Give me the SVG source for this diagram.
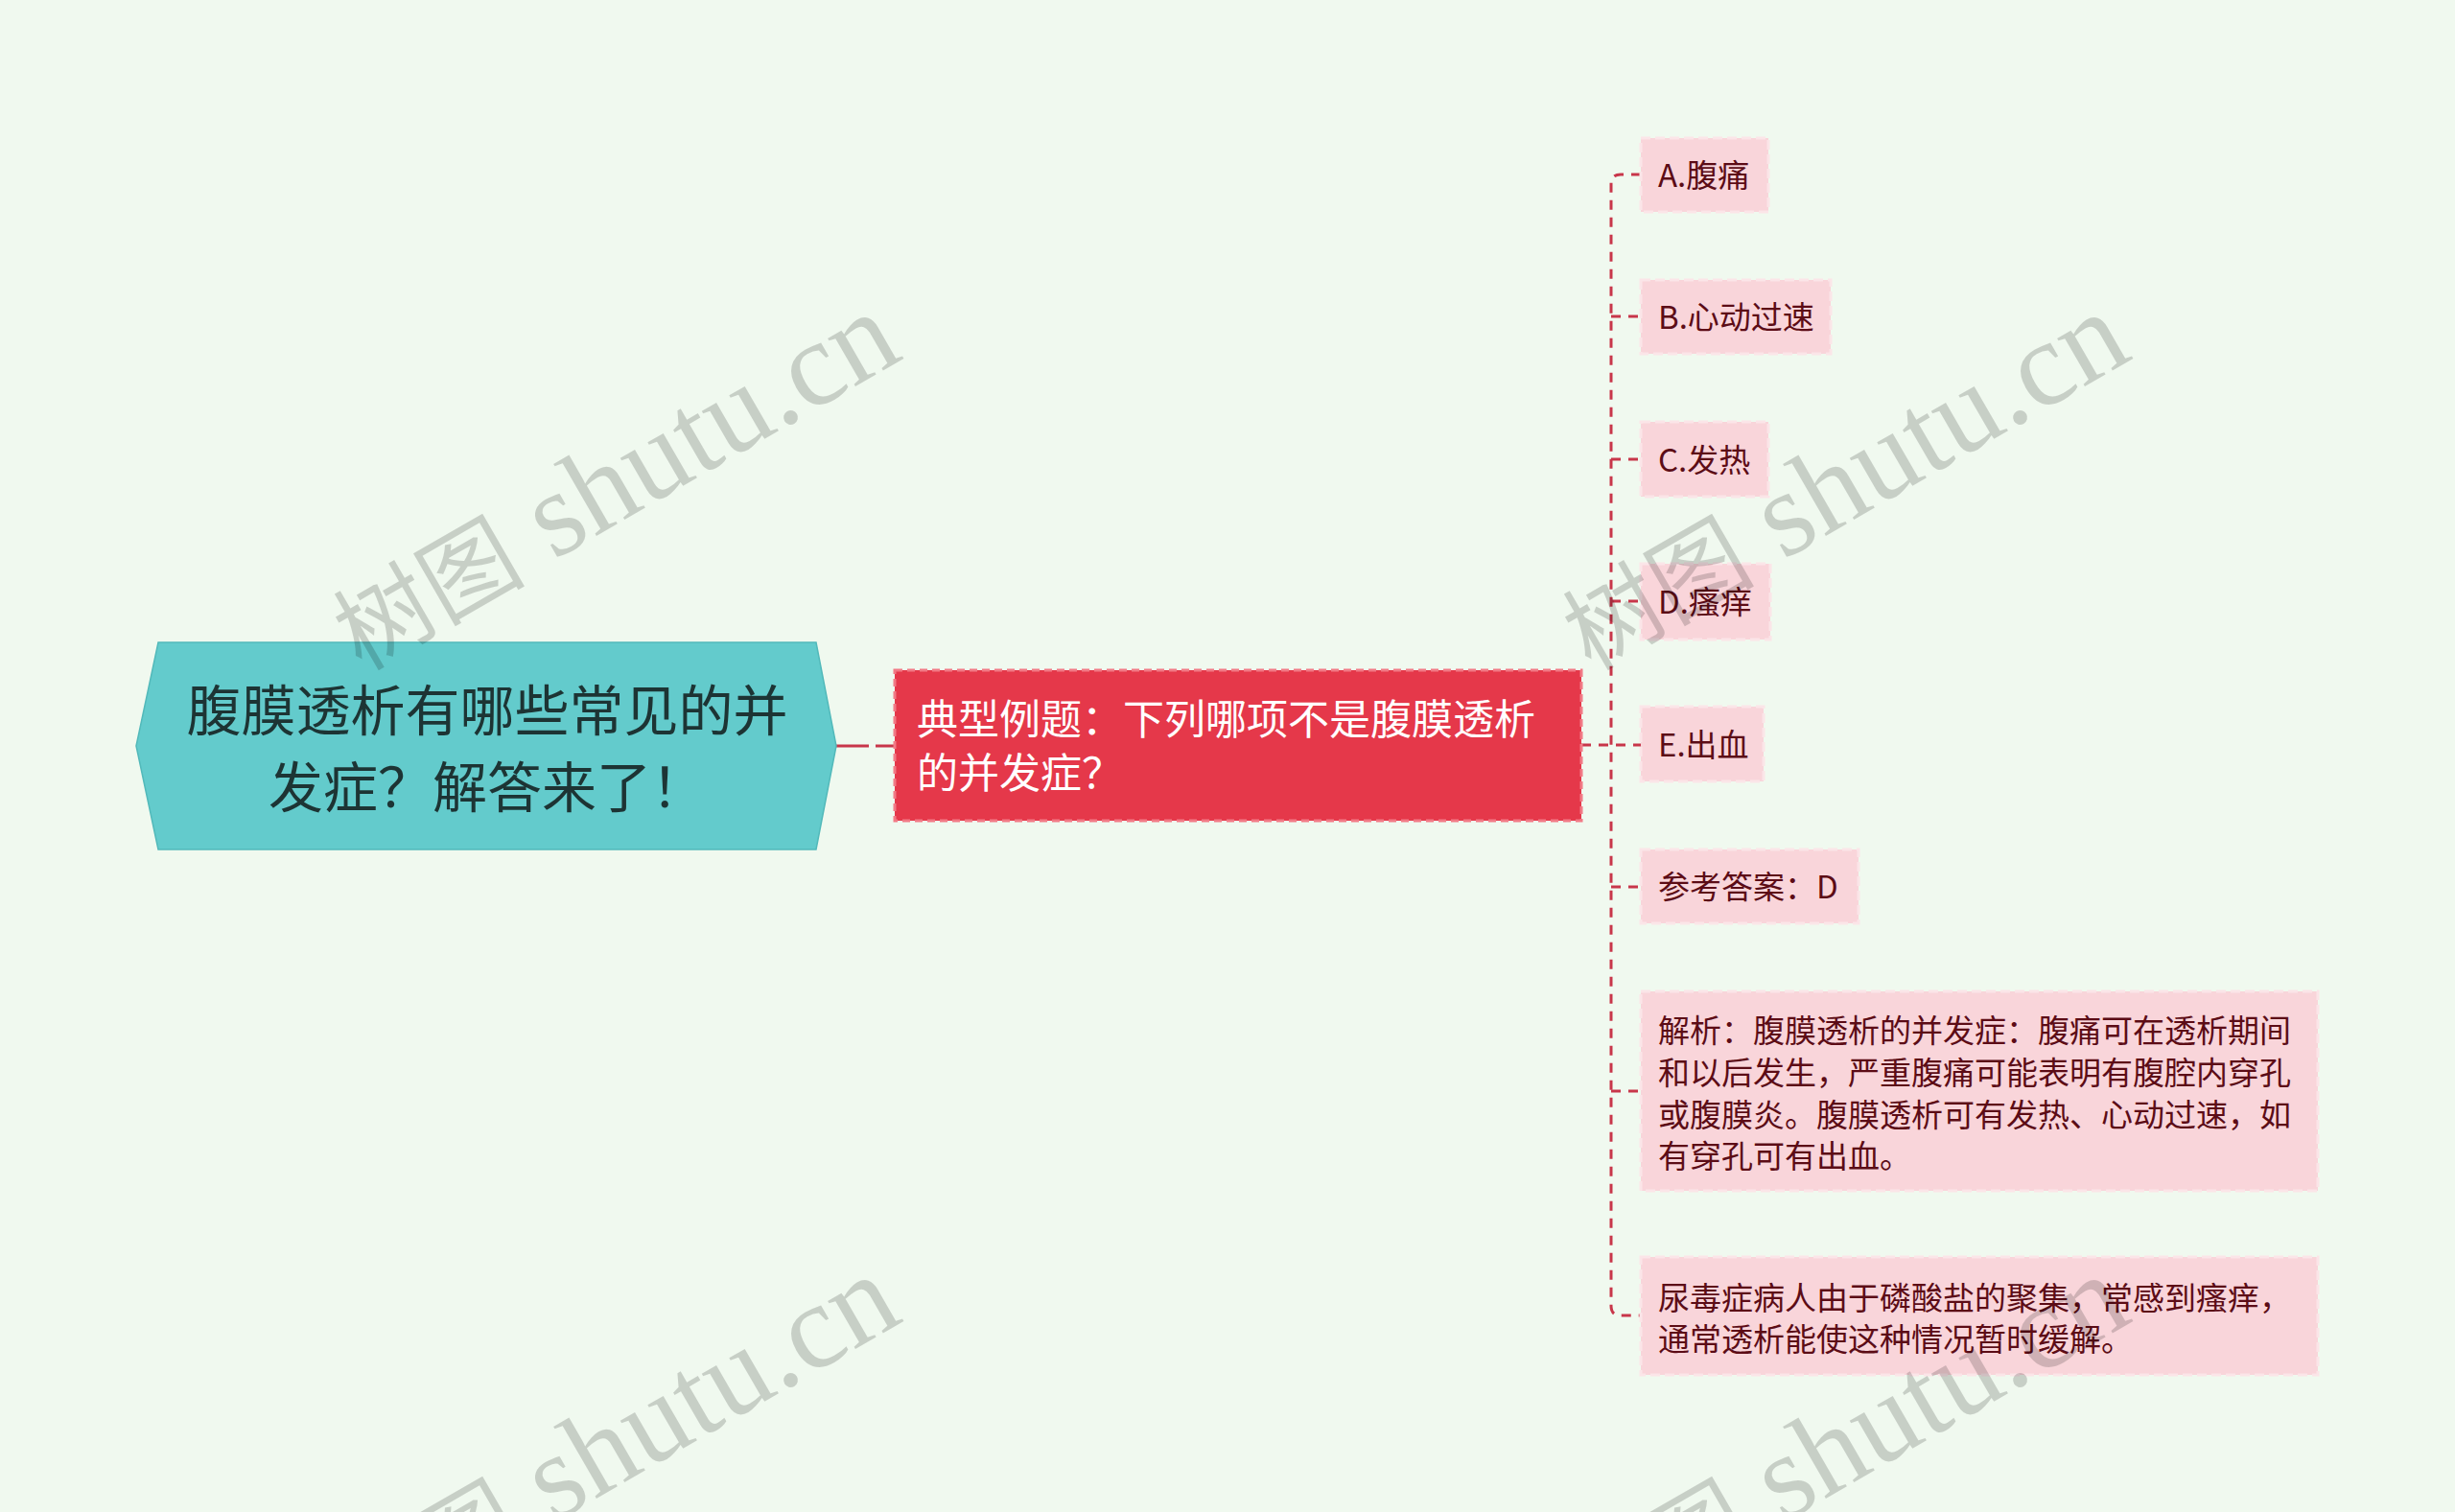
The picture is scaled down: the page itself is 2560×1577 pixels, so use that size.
<svg xmlns="http://www.w3.org/2000/svg" width="2560" height="1577" viewBox="0 0 2560 1577">
<defs>
<style>
.bg{fill:#f0f9ef}
.conn{fill:none;stroke:#c8364a;stroke-width:3;stroke-dasharray:10 8}
.leaf rect{fill:#f9d5da;stroke:#fbe5e8;stroke-width:3;stroke-dasharray:10 5}
.leaf text{font-family:"Noto Sans CJK SC","Noto Sans",sans-serif;font-size:33px;fill:#5c0c16}
.wm{font-family:"Liberation Serif","Noto Sans CJK SC",serif;font-size:126px;fill:#000;fill-opacity:0.17}
.wm .cj{font-size:100px}
</style>
</defs>
<rect class="bg" x="0" y="0" width="2560" height="1577"/>

<g id="connectors">
<path d="M871,778 H906" fill="none" stroke="#c8364a" stroke-width="3"/>
<path d="M913,778 H932" fill="none" stroke="#c8364a" stroke-width="3"/>
<path class="conn" d="M1649,777 H1711"/>
<path class="conn" d="M1711,182 H1690 Q1680,182 1680,192 V1362 Q1680,1372 1690,1372 H1711"/>
<path class="conn" d="M1680,330 H1711"/>
<path class="conn" d="M1680,479 H1711"/>
<path class="conn" d="M1680,627 H1711"/>
<path class="conn" d="M1680,925 H1711"/>
<path class="conn" d="M1680,1138 H1711"/>
</g>

<g id="root">
<polygon points="142,778 165,670 851,670 872,778 851,886 165,886" fill="#63cbcc" stroke="#52b9ba" stroke-width="1.5"/>
<text x="508" y="762" text-anchor="middle" font-family="Noto Sans CJK SC, sans-serif" font-size="57" fill="#1d3434">腹膜透析有哪些常见的并</text>
<text x="508" y="842" text-anchor="middle" font-family="Noto Sans CJK SC, sans-serif" font-size="57" fill="#1d3434">发症？解答来了！</text>
</g>

<g id="question">
<rect x="933" y="699" width="716" height="157" fill="#e5384a" stroke="#f27a86" stroke-width="3" stroke-dasharray="8 5"/>
<text x="956" y="766" font-family="Noto Sans CJK SC, sans-serif" font-size="43" fill="#ffffff">典型例题：下列哪项不是腹膜透析</text>
<text x="956" y="822" font-family="Noto Sans CJK SC, sans-serif" font-size="43" fill="#ffffff">的并发症？</text>
</g>

<g id="optA" class="leaf"><rect x="1711" y="144" width="133" height="77"/><text x="1729" y="195">A.腹痛</text></g>
<g id="optB" class="leaf"><rect x="1711" y="292" width="198" height="77"/><text x="1729" y="343">B.心动过速</text></g>
<g id="optC" class="leaf"><rect x="1711" y="440" width="133" height="78"/><text x="1729" y="492">C.发热</text></g>
<g id="optD" class="leaf"><rect x="1711" y="588" width="135" height="79"/><text x="1729" y="640">D.瘙痒</text></g>
<g id="optE" class="leaf"><rect x="1711" y="737" width="128" height="78"/><text x="1729" y="789">E.出血</text></g>
<g id="answer" class="leaf"><rect x="1711" y="886" width="227" height="77"/><text x="1729" y="937">参考答案：D</text></g>
<g id="analysis" class="leaf"><rect x="1711" y="1034" width="706" height="208"/>
<text x="1729" y="1087">解析：腹膜透析的并发症：腹痛可在透析期间</text>
<text x="1729" y="1131">和以后发生，严重腹痛可能表明有腹腔内穿孔</text>
<text x="1729" y="1175">或腹膜炎。腹膜透析可有发热、心动过速，如</text>
<text x="1729" y="1218">有穿孔可有出血。</text>
</g>
<g id="note" class="leaf"><rect x="1711" y="1311" width="706" height="123"/>
<text x="1729" y="1366">尿毒症病人由于磷酸盐的聚集，常感到瘙痒，</text>
<text x="1729" y="1409">通常透析能使这种情况暂时缓解。</text>
</g>

<g id="watermarks">
<text class="wm" text-anchor="end" transform="translate(944,373) rotate(-30)"><tspan class="cj">树图</tspan> shutu.cn</text>
<text class="wm" text-anchor="end" transform="translate(2226,373) rotate(-30)"><tspan class="cj">树图</tspan> shutu.cn</text>
<text class="wm" text-anchor="end" transform="translate(944,1377) rotate(-30)"><tspan class="cj">树图</tspan> shutu.cn</text>
<text class="wm" text-anchor="end" transform="translate(2226,1377) rotate(-30)"><tspan class="cj">树图</tspan> shutu.cn</text>
</g>
</svg>
